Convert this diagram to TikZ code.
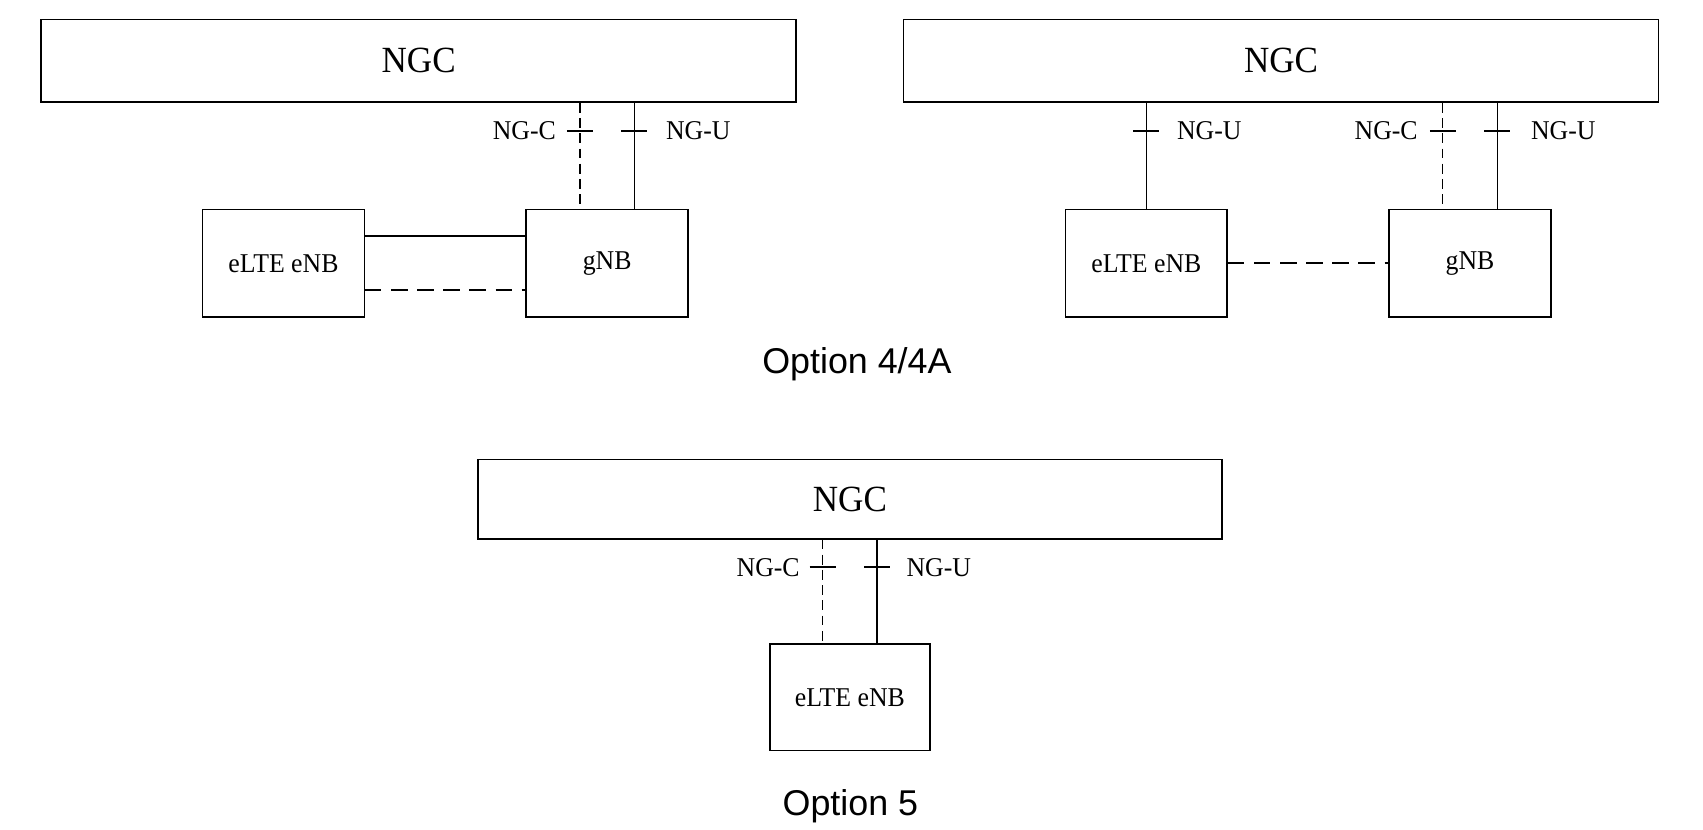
\documentclass[tikz,border=0pt]{standalone}
\usepackage{fontspec}
\setmainfont{Liberation Serif}[FakeStretch=0.95]
\newfontfamily\captionfont{Liberation Sans}
\usetikzlibrary{positioning}

\tikzset{
  box/.style = {draw, line width=1.5pt, inner sep=0pt, font=\fontsize{25}{30}\selectfont},
  core/.style = {box, minimum width=695pt, minimum height=76pt, font=\fontsize{34}{40}\selectfont},
  ran/.style = {box, minimum width=149pt, minimum height=99pt},
  cplane/.style = {line width=1pt, dash pattern=on 9pt off 5pt},
  uplane/.style = {line width=1pt},
  xlink/.style = {line width=2pt},
  xlinkdash/.style = {line width=2pt, dash pattern=on 15pt off 9pt},
  tick/.style = {line width=2pt},
  iflabel/.style = {inner sep=0pt, font=\fontsize{25}{30}\selectfont},
  caption/.style = {font=\captionfont\fontsize{33}{40}\selectfont}
}

\begin{document}
\begin{tikzpicture} [x=1pt, y=-1pt]

    \useasboundingbox (0,0) rectangle (1568,764.2);

    % option 4
    \node [core] (ngcA) at (385.5,56) {NGC};
    \node [ran] (enbA) at (261,242.5) {eLTE eNB};
    \node [ran] (gnbA) at (559,242.5) {gNB};

    \draw [xlink] ([yshift=25pt]enbA.east) -- ([yshift=25pt]gnbA.west);
    \draw [xlinkdash] ([yshift=-24.5pt]enbA.east) -- ([yshift=-24.5pt]gnbA.west);

    \coordinate (cA1) at ([xshift=-25pt]gnbA.north);
    \coordinate (cA2) at ([xshift=25pt]gnbA.north);
    \draw [cplane] (cA1 |- ngcA.south) -- coordinate[pos=0.263] (tA1) (cA1);
    \draw [uplane] (cA2 |- ngcA.south) -- coordinate[pos=0.263] (tA2) (cA2);
    \draw [tick] ([xshift=-12pt]tA1) -- ([xshift=12pt]tA1);
    \draw [tick] ([xshift=-12pt]tA2) -- ([xshift=12pt]tA2);
    \node [iflabel, left=22pt of tA1] (lA1) {NG-C};
    \node [iflabel, right=29pt of tA2] (lA2) {NG-U};

    % option 4A
    \node [core] (ngcB) at (1179.5,56) {NGC};
    \node [ran] (enbB) at (1055.5,242.5) {eLTE eNB};
    \node [ran] (gnbB) at (1353.5,242.5) {gNB};

    \draw [xlinkdash] (enbB.east) -- (gnbB.west);

    \coordinate (cB0) at (enbB.north);
    \coordinate (cB1) at ([xshift=-25pt]gnbB.north);
    \coordinate (cB2) at ([xshift=25pt]gnbB.north);
    \draw [uplane] (cB0 |- ngcB.south) -- coordinate[pos=0.263] (tB0) (cB0);
    \draw [cplane] (cB1 |- ngcB.south) -- coordinate[pos=0.263] (tB1) (cB1);
    \draw [uplane] (cB2 |- ngcB.south) -- coordinate[pos=0.263] (tB2) (cB2);
    \draw [tick] ([xshift=-12pt]tB0) -- ([xshift=12pt]tB0);
    \draw [tick] ([xshift=-12pt]tB1) -- ([xshift=12pt]tB1);
    \draw [tick] ([xshift=-12pt]tB2) -- ([xshift=12pt]tB2);
    \node [iflabel, right=28pt of tB0] (lB0) {NG-U};
    \node [iflabel, left=23pt of tB1] (lB1) {NG-C};
    \node [iflabel, right=31pt of tB2] (lB2) {NG-U};

    \node [caption] (optA) at (789,335) {Option 4/4A};

    % option 5
    \node [core, minimum width=685pt, minimum height=73pt] (ngcC) at (782.5,459.5) {NGC};
    \node [ran, minimum width=147pt, minimum height=98pt] (enbC) at (782.5,642) {eLTE eNB};

    \coordinate (cC1) at ([xshift=-25pt]enbC.north);
    \coordinate (cC2) at ([xshift=25pt]enbC.north);
    \draw [cplane] (cC1 |- ngcC.south) -- coordinate[pos=0.268] (tC1) (cC1);
    \draw [uplane] (cC2 |- ngcC.south) -- coordinate[pos=0.268] (tC2) (cC2);
    \draw [tick] ([xshift=-12pt]tC1) -- ([xshift=12pt]tC1);
    \draw [tick] ([xshift=-12pt]tC2) -- ([xshift=12pt]tC2);
    \node [iflabel, left=21pt of tC1] (lC1) {NG-C};
    \node [iflabel, right=27pt of tC2] (lC2) {NG-U};

    \node [caption] (optC) at (783,742) {Option 5};

\end{tikzpicture}
\end{document}
